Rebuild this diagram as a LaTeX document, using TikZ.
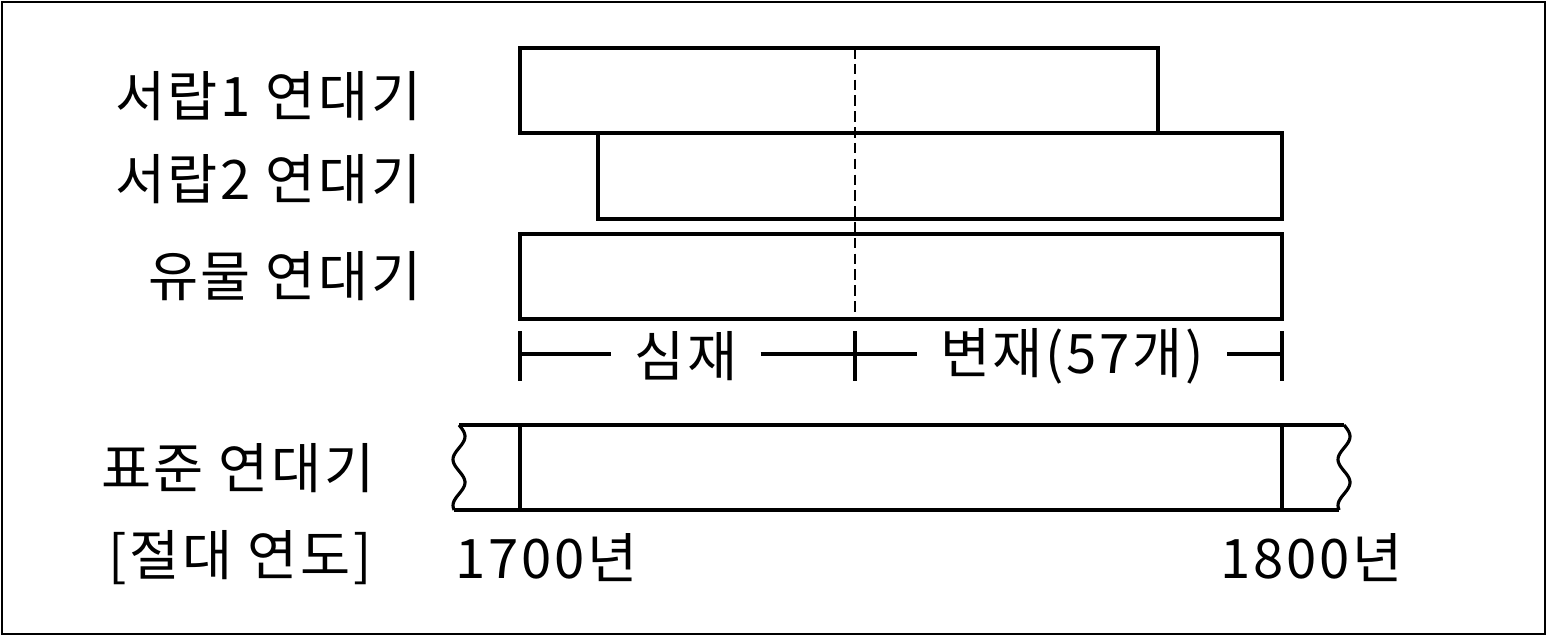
\documentclass[tikz,border=0pt]{standalone}
\usepackage{fontspec}
\setmainfont{Noto Sans CJK KR}[LetterSpace=5]
\usetikzlibrary{calc, positioning}

\begin{document}
\begin{tikzpicture}[x=0.02cm, y=-0.02cm,
    bar/.style={draw, line width=1.8pt},
    lbl/.style={anchor=east, inner sep=0pt, font=\fontsize{31}{36}\selectfont},
    dimtxt/.style={inner ysep=0pt, inner xsep=13pt, font=\fontsize{31}{36}\selectfont}]
    \useasboundingbox (0,0) rectangle (1547,636);

    % Outer frame
    \draw[line width=1.6pt] (2,2) rectangle (1545,634);

    % Row labels
    \node[lbl] (drawer1) at (422,96) {서랍1 연대기};
    \node[lbl] (drawer2) at (422,179) {서랍2 연대기};
    \node[lbl] (relic) at (422,276) {유물 연대기};
    \node[lbl] (standard) at (375,468) {표준 연대기};
    \node[lbl] (absolute) at (372,558) {[절대 연도]};

    % Chronology bars
    \draw[bar] (520,48) rectangle (1158,133);
    \draw[bar] (598,133) rectangle (1282,219);
    \draw[bar] (520,234) rectangle (1282,319);

    % Heartwood / sapwood boundary
    \draw[line width=1.2pt, dash pattern=on 6pt off 3pt] (855,48) -- (855,319);

    % Dimension line with ticks
    \coordinate (t1) at (520,354);
    \coordinate (t2) at (855,354);
    \coordinate (t3) at (1282,354);
    \foreach \t in {t1,t2,t3}
        \draw[line width=1.8pt] ($(\t)+(0,-23)$) -- ($(\t)+(0,27)$);
    \node[dimtxt] (heart) at (686,356) {심재};
    \node[dimtxt] (sap) at (1072,356) {변재(57개)};
    \draw[line width=1.8pt] (t1) -- (t1 -| heart.west);
    \draw[line width=1.8pt] (t1 -| heart.east) -- (t2) -- (t2 -| sap.west);
    \draw[line width=1.8pt] (t3 -| sap.east) -- (t3);

    % Standard chronology with broken ends
    \foreach \dx in {0,885}
        \draw[bar, line join=round] plot[domain=0:1, samples=40]
            ({459+\dx+6*sin(666*\x)}, {425+85*\x});
    \draw[bar] (459,425) -- (1344,425);
    \draw[bar] (454,510) -- (1339,510);
    \draw[bar] (520,425) -- (520,510);
    \draw[bar] (1282,425) -- (1282,510);

    % Absolute years
    \node[lbl, anchor=west] (y1700) at (455,558) {1700년};
    \node[lbl, anchor=west] (y1800) at (1220,558) {1800년};
\end{tikzpicture}
\end{document}
